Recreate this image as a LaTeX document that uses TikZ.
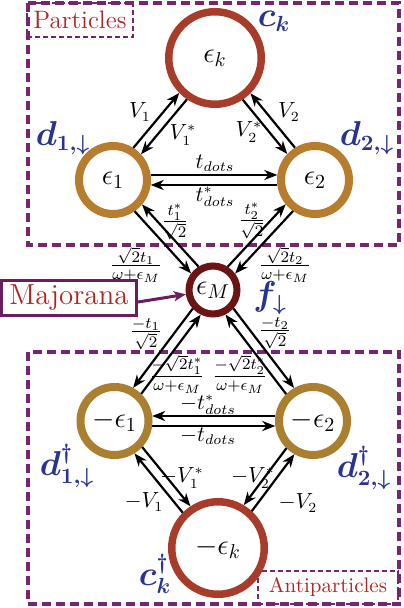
\documentclass[tikz,border=0pt]{standalone}
\usepackage{amsmath,amssymb,bm}
\usetikzlibrary{arrows.meta,calc}
\definecolor{ringK}{RGB}{168,60,42}
\definecolor{ringD}{RGB}{183,124,46}
\definecolor{ringDb}{RGB}{170,128,48}
\definecolor{ringM}{RGB}{108,20,20}
\definecolor{boxpurple}{RGB}{122,36,110}
\definecolor{majpurple}{RGB}{105,30,95}
\definecolor{lblblue}{RGB}{40,52,145}
\definecolor{lblred}{RGB}{172,38,38}
% #1 A, #2 B, #3 side angle, #4 opposite angle, #5 shorten at A, #6 shorten at B
\newcommand{\twoway}[6]{%
  \draw[arr, shorten <=#5, shorten >=#6] ($(#1)!2.5pt!#3:(#2)$) -- ($(#2)!2.5pt!#4:(#1)$);
  \draw[arr, shorten <=#6, shorten >=#5] ($(#2)!2.5pt!#3:(#1)$) -- ($(#1)!2.5pt!#4:(#2)$);
}
\begin{document}
\begin{tikzpicture}[x=0.5pt,y=-0.5pt,
  ring/.style={circle, draw, inner sep=0pt, fill=white, font=\fontsize{14}{16}\selectfont},
  bigring/.style={ring, draw=ringK, minimum size=46.25pt, line width=3.75pt},
  dotring/.style={ring, draw=ringD, minimum size=34pt, line width=4pt},
  dotringb/.style={ring, draw=ringDb, minimum size=34pt, line width=4pt},
  mring/.style={ring, draw=ringM, minimum size=24pt, line width=3.5pt},
  arr/.style={-{Stealth[length=6.5pt,width=5pt,inset=2pt]}, line width=1.1pt},
  lbl/.style={inner sep=0pt, font=\fontsize{10.5}{12}\selectfont},
  flbl/.style={inner sep=0pt, font=\fontsize{11.8}{13}\selectfont},
  op/.style={inner sep=0pt, text=lblblue, font=\fontsize{16}{18}\selectfont},
  bigbox/.style={draw=boxpurple, line width=2pt, dash pattern=on 4.5pt off 2.5pt},
  smallbox/.style={draw=boxpurple, line width=1pt, dash pattern=on 2.5pt off 1.5pt, inner sep=0pt, text=lblred},
  majbox/.style={draw=majpurple, line width=1.5pt, inner sep=0pt, text=lblred, minimum width=67.5pt, minimum height=17.5pt, font=\fontsize{14.5}{16}\selectfont},
  majarr/.style={draw=majpurple, line width=1.5pt, -{Stealth[length=6pt,width=5pt,inset=1.5pt]}}
]
\useasboundingbox (0,0) rectangle (403,608);
% region boxes
\draw[bigbox] (28,3) rectangle (399,245);
\draw[bigbox] (28,352) rectangle (399,604);
\node[smallbox, minimum width=53pt, minimum height=17pt, font=\fontsize{12.6}{14}\selectfont] (parts) at (80,20) {Particles};
\node[smallbox, minimum width=70pt, minimum height=16.5pt, font=\fontsize{10.5}{12}\selectfont] (aparts) at (328,587.5) {Antiparticles};
% sites
\node[bigring] (ek) at (215,58) {$\epsilon_k$};
\node[dotring] (e1) at (113,180) {$\epsilon_1$};
\node[dotring] (e2) at (315,180) {$\epsilon_2$};
\node[mring] (eM) at (213,290) {$\epsilon_M$};
\node[dotringb] (me1) at (114.5,421) {$-\epsilon_1$};
\node[dotringb] (me2) at (313,421) {$-\epsilon_2$};
\node[bigring] (mek) at (218,548) {$-\epsilon_k$};
% hoppings
\twoway{e1}{ek}{90}{-90}{18.83pt}{24.87pt}
\twoway{ek}{e2}{-90}{90}{24.87pt}{18.83pt}
\twoway{e1}{e2}{90}{-90}{18.83pt}{18.83pt}
\twoway{e1}{eM}{-90}{90}{18.83pt}{13.52pt}
\twoway{eM}{e2}{90}{-90}{13.52pt}{18.83pt}
\twoway{eM}{me1}{-90}{90}{13.52pt}{18.83pt}
\twoway{eM}{me2}{90}{-90}{13.52pt}{18.83pt}
\twoway{me1}{me2}{-90}{90}{18.83pt}{18.83pt}
\twoway{mek}{me1}{90}{-90}{24.87pt}{18.83pt}
\twoway{mek}{me2}{-90}{90}{24.87pt}{18.83pt}
% hopping labels
\node[lbl] (lV1) at (140,112) {$V_1$};
\node[lbl] (lV1s) at (183,135) {$V_1^*$};
\node[lbl] (lV2s) at (249,132) {$V_2^*$};
\node[lbl] (lV2) at (289,112) {$V_2$};
\node[lbl] (ltd) at (215,163) {$t_{dots}$};
\node[lbl] (ltds) at (215,197) {$t^*_{dots}$};
\node[flbl] (lt1s) at (175,222) {$\frac{t_1^*}{\sqrt{2}}$};
\node[flbl] (lt2s) at (252,221) {$\frac{t_2^*}{\sqrt{2}}$};
\node[flbl] (lt1) at (136,265) {$\frac{\sqrt{2}t_1}{\omega+\epsilon_M}$};
\node[flbl] (lt2) at (285,265) {$\frac{\sqrt{2}t_2}{\omega+\epsilon_M}$};
\node[flbl] (lmt1) at (146,334) {$\frac{-t_1}{\sqrt{2}}$};
\node[flbl] (lmt2) at (275,333) {$\frac{-t_2}{\sqrt{2}}$};
\node[flbl] (lmt1s) at (177,374) {$\frac{-\sqrt{2}t_1^*}{\omega+\epsilon_M}$};
\node[flbl] (lmt2s) at (240,374) {$\frac{-\sqrt{2}t_2^*}{\omega+\epsilon_M}$};
\node[lbl] (lmtds) at (208,405) {$-t^*_{dots}$};
\node[lbl] (lmtd) at (208,436) {$-t_{dots}$};
\node[lbl] (lmV1s) at (182,478) {$-V_1^*$};
\node[lbl] (lmV1) at (144,502) {$-V_1$};
\node[lbl] (lmV2s) at (253,478) {$-V_2^*$};
\node[lbl] (lmV2) at (298,503) {$-V_2$};
% operator labels
\node[op] (ck) at (274,21) {$\boldsymbol{c_k}$};
\node[op] (d1) at (63,138) {$\boldsymbol{d_{1,\downarrow}}$};
\node[op] (d2) at (367,138) {$\boldsymbol{d_{2,\downarrow}}$};
\node[op] (fM) at (270,298) {$\boldsymbol{f_{\downarrow}}$};
\node[op] (d1d) at (67,466) {$\boldsymbol{d^{\dagger}_{1,\downarrow}}$};
\node[op] (d2d) at (364,468) {$\boldsymbol{d^{\dagger}_{2,\downarrow}}$};
\node[op] (ckd) at (155,574) {$\boldsymbol{c^{\dagger}_k}$};
% Majorana
\node[majbox] (maj) at (69,298) {Majorana};
\draw[majarr] ([yshift=-2pt]maj.east) -- (eM);
\end{tikzpicture}
\end{document}
